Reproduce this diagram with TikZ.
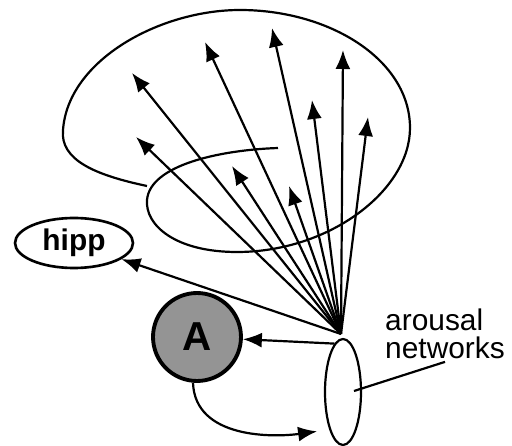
\documentclass[tikz,border=0pt]{standalone}
\usepackage{fontspec}
\setsansfont{Liberation Sans}
\usetikzlibrary{shapes.geometric,arrows.meta}

\begin{document}
\begin{tikzpicture}[x=0.02cm,y=-0.02cm,->,>={Latex[length=3.8mm,width=3mm]},line width=1.25pt,
		hipp node/.style={ellipse,draw,line width=1.5pt,minimum width=2.36cm,minimum height=1cm,inner sep=0pt,font=\sffamily\bfseries\fontsize{17}{17}\selectfont},
		amyg node/.style={circle,draw,line width=2.2pt,fill=black!42,minimum size=1.76cm,inner sep=0pt,font=\sffamily\bfseries\fontsize{23}{23}\selectfont},
		arousal node/.style={ellipse,draw,minimum width=0.72cm,minimum height=2.12cm,inner sep=0pt},
		text node/.style={align=left,inner sep=1pt,font=\sffamily\fontsize{17}{16}\selectfont}]
		\useasboundingbox (0,0) rectangle (512,446);
		% cortex
		\draw[-] (147,186) .. controls (95,175) and (60,160) .. (63,130)
			.. controls (68,60) and (160,10) .. (240,10)
			.. controls (330,10) and (410,60) .. (410,128)
			.. controls (410,190) and (330,252) .. (237,252)
			.. controls (175,252) and (145,225) .. (147,200)
			.. controls (150,165) and (220,150) .. (278,148);
		
		\node[arousal node] (arousal) at (343,392) {};
		\node[amyg node] (A) at (197,337) {A};
		\node[hipp node] (hipp) at (74,243) {hipp};
		\node[text node] (lbl) at (445,334) {arousal\\networks};
		\coordinate (fan) at (341,334);
		\coordinate (tick) at (354,391);
		
		\foreach \x/\y [count=\i] in {132/73,205/42,272/28,343/50,368/117,312/100,136/137,232/166,289/186}
			\coordinate (t\i) at (\x,\y);
		\foreach \i in {1,...,9}
			\draw (fan) -- (t\i);
		\draw (fan) -- (hipp);
		\draw (arousal.100) -- (A);
		\draw[shorten >=7pt] (A.265) to[out=-88,in=188] (arousal.250);
		\draw[-] (tick) -- (lbl.south);
		\end{tikzpicture}
\end{document}
